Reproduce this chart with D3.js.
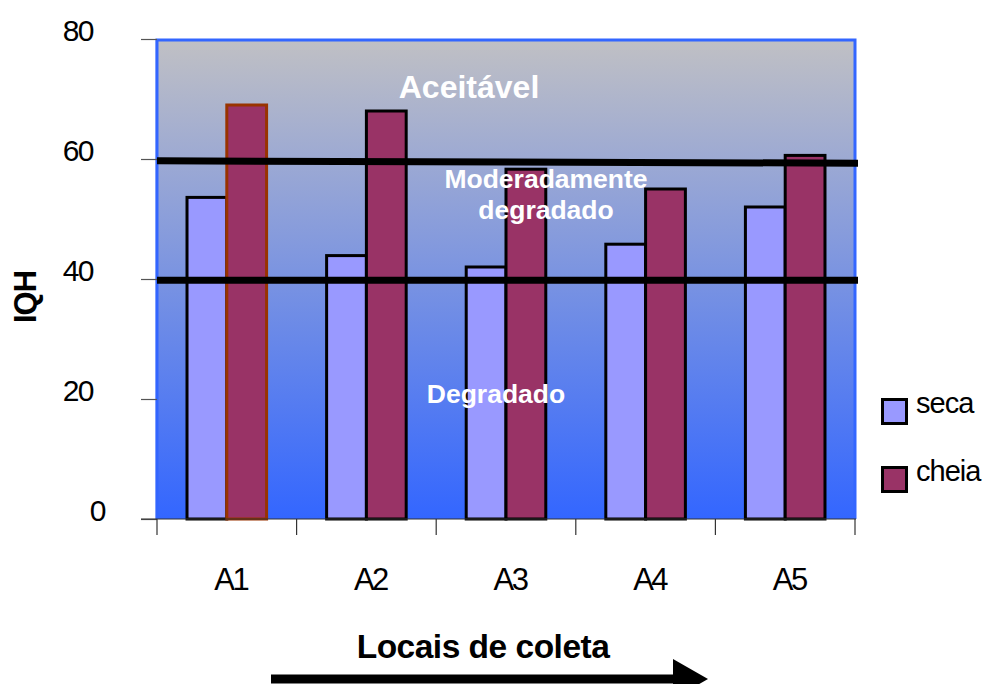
<!DOCTYPE html>
<html>
<head>
<meta charset="utf-8">
<script src="https://cdn.jsdelivr.net/npm/d3@7"></script>
<style>
  html, body { margin: 0; padding: 0; background: #ffffff; }
  svg { display: block; font-family: "Liberation Sans", Arial, sans-serif; }
</style>
</head>
<body>
<svg id="chart" width="983" height="684"></svg>
<script>
// Sampling sites and IQH scores for the dry (seca) and wet (cheia) seasons
const sites = ["A1", "A2", "A3", "A4", "A5"];
const series = ["seca", "cheia"];
const secaValues = [53.6, 43.9, 42, 45.8, 52];
const cheiaValues = [69, 68, 58.3, 55, 60.6];
const yTicks = [0, 20, 40, 60, 80];
// Class limits of the index (value at the left and right ends of each line)
const limitStart = [59.7, 39.8];
const limitEnd = [59.3, 39.8];
const zoneLabels = ["Aceitável", "Moderadamente", "degradado", "Degradado"];

(function () {
const svg = d3.select("#chart");
const plotLeft = 157, plotRight = 855, plotTop = 39, plotBottom = 519;

const x = d3.scaleBand().domain(sites).range([plotLeft, plotRight])
  .paddingInner(0.43).paddingOuter(0.215);
const xs = d3.scaleBand().domain(series).range([0, x.bandwidth()]);
const y = d3.scaleLinear().domain([0, 80]).range([plotBottom, plotTop]);

const fills = { seca: "#9999ff", cheia: "#993366" };

// Plot background gradient
const defs = svg.append("defs");
const grad = defs.append("linearGradient").attr("id", "bg")
  .attr("x1", 0).attr("y1", 0).attr("x2", 0).attr("y2", 1);
grad.append("stop").attr("offset", "0%").attr("stop-color", "#c0c0c4");
grad.append("stop").attr("offset", "100%").attr("stop-color", "#3366ff");

svg.append("rect")
  .attr("x", plotLeft).attr("y", plotTop)
  .attr("width", plotRight - plotLeft).attr("height", plotBottom - plotTop)
  .attr("fill", "url(#bg)");

// Plot frame (top, right, left)
svg.append("path")
  .attr("d", `M${plotLeft},${plotBottom} V${plotTop + 1} H${plotRight} V${plotBottom}`)
  .attr("fill", "none").attr("stroke", "#3366ff").attr("stroke-width", 3);
svg.append("line")
  .attr("x1", plotLeft - 0.5).attr("x2", plotLeft - 0.5).attr("y1", plotTop).attr("y2", plotBottom)
  .attr("stroke", "#3366ff").attr("stroke-width", 1.5);

// Bars
const rows = sites.map((s, i) => ({ site: s, seca: secaValues[i], cheia: cheiaValues[i] }));
const groups = svg.append("g").selectAll("g").data(rows).join("g")
  .attr("transform", d => `translate(${x(d.site)},0)`);
groups.selectAll("rect")
  .data(d => series.map(k => ({ site: d.site, key: k, value: d[k] })))
  .join("rect")
  .attr("x", d => xs(d.key))
  .attr("y", d => y(d.value))
  .attr("width", xs.bandwidth())
  .attr("height", d => y(0) - y(d.value))
  .attr("fill", d => fills[d.key])
  .attr("stroke", d => (d.site === "A1" && d.key === "cheia") ? "#993300" : "#000000")
  .attr("stroke-width", 3);

// Class limit lines
svg.append("g").selectAll("line").data(limitStart).join("line")
  .attr("x1", plotLeft).attr("x2", plotRight + 3)
  .attr("y1", d => y(d))
  .attr("y2", (d, i) => y(limitEnd[i]))
  .attr("stroke", "#000").attr("stroke-width", 7);

// Zone labels
const zoneText = svg.append("g").attr("fill", "#ffffff").attr("font-weight", "bold")
  .attr("text-anchor", "middle");
zoneText.append("text").attr("x", 469).attr("y", y(70) - 1)
  .attr("font-size", 32).text(zoneLabels[0]);
zoneText.append("text").attr("x", 546).attr("y", 188)
  .attr("font-size", 26.5).text(zoneLabels[1]);
zoneText.append("text").attr("x", 546).attr("y", 219)
  .attr("font-size", 26.5).text(zoneLabels[2]);
zoneText.append("text").attr("x", 496).attr("y", 403)
  .attr("font-size", 26.5).text(zoneLabels[3]);

// Y axis
const yAxis = svg.append("g").attr("transform", `translate(${plotLeft},0)`)
  .call(d3.axisLeft(y).tickValues(yTicks).tickSize(16).tickPadding(0));
yAxis.select(".domain").remove();
yAxis.selectAll(".tick line").attr("stroke", "#555").attr("stroke-width", 1.2);
yAxis.selectAll(".tick text")
  .attr("font-family", "Liberation Sans, Arial, sans-serif")
  .attr("font-size", 30).attr("letter-spacing", -1.5)
  .attr("fill", "#000")
  .attr("text-anchor", "end")
  .attr("x", d => d === 0 ? -52 : -64)
  .attr("dy", 0).attr("y", 1);

// X axis: baseline, category separators and labels
svg.append("line").attr("x1", plotLeft - 16).attr("x2", plotRight + 1)
  .attr("y1", plotBottom).attr("y2", plotBottom)
  .attr("stroke", "#333").attr("stroke-width", 1.2);
const sepStep = x.step() * x.paddingInner() / 2;
const seps = sites.map(s => x(s) - sepStep)
  .concat([x(sites[sites.length - 1]) + x.bandwidth() + sepStep]);
svg.append("g").selectAll("line").data(seps).join("line")
  .attr("x1", d => d).attr("x2", d => d)
  .attr("y1", plotBottom).attr("y2", plotBottom + 16)
  .attr("stroke", "#333").attr("stroke-width", 1.2);
svg.append("g").selectAll("text").data(sites).join("text")
  .attr("x", d => x(d) + x.bandwidth() / 2 + 4)
  .attr("y", 590)
  .attr("text-anchor", "middle")
  .attr("font-size", 31).attr("letter-spacing", -2.5)
  .text(d => d);

// Axis titles
svg.append("text")
  .attr("transform", "translate(36,297) rotate(-90)")
  .attr("text-anchor", "middle")
  .attr("font-weight", "bold").attr("font-size", 31).attr("letter-spacing", -1)
  .text("IQH");
svg.append("text")
  .attr("x", 483).attr("y", 658)
  .attr("text-anchor", "middle")
  .attr("font-weight", "bold").attr("font-size", 33.5).attr("letter-spacing", -0.5)
  .text("Locais de coleta");

// Direction arrow under the x title
svg.append("line").attr("x1", 271).attr("x2", 675).attr("y1", 679).attr("y2", 679)
  .attr("stroke", "#000").attr("stroke-width", 9);
svg.append("path").attr("d", "M673,659 L708,679 L673,699 Z").attr("fill", "#000");

// Legend
const legend = svg.append("g").selectAll("g").data(series).join("g")
  .attr("transform", (d, i) => `translate(881,${398 + i * 68})`);
legend.append("rect").attr("x", 1.5).attr("y", 1.5).attr("width", 24).attr("height", 24)
  .attr("fill", d => fills[d]).attr("stroke", "#000").attr("stroke-width", 3);
legend.append("text").attr("x", 35).attr("y", 15)
  .attr("font-size", 29).attr("letter-spacing", -1)
  .text(d => d);
})();
</script>
</body>
</html>
